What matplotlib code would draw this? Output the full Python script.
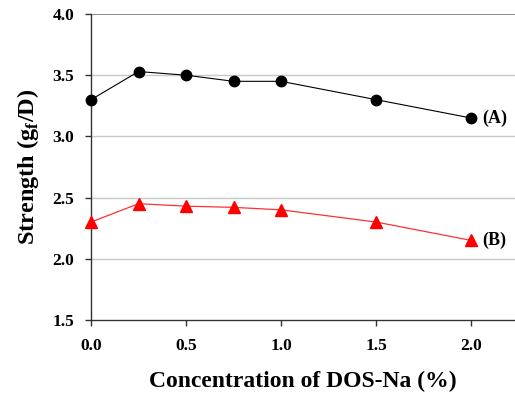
import matplotlib
matplotlib.use('Agg')
import matplotlib.pyplot as plt

# --- data ---
conc = [0.0, 0.25, 0.5, 0.75, 1.0, 1.5, 2.0]
strength_a = [3.30, 3.53, 3.50, 3.45, 3.45, 3.30, 3.15]
strength_b = [2.30, 2.45, 2.43, 2.42, 2.40, 2.30, 2.15]
x_ticks = [0.0, 0.5, 1.0, 1.5, 2.0]
y_ticks = [1.5, 2.0, 2.5, 3.0, 3.5, 4.0]

plt.rcParams['font.family'] = ['Liberation Serif', 'DejaVu Serif']
plt.rcParams['font.weight'] = 'bold'
plt.rcParams['mathtext.fontset'] = 'custom'
plt.rcParams['mathtext.bf'] = 'Liberation Serif:bold'
plt.rcParams['mathtext.rm'] = 'Liberation Serif:bold'

fig = plt.figure(figsize=(5.15, 3.96), dpi=100)
ax = fig.add_axes([0.1767, 0.192, 0.8233, 0.7726])

# horizontal grid
for y in y_ticks[1:-1]:
    ax.axhline(y, color='#c8c8c8', linewidth=1.0, zorder=0)
ax.axhline(4.0, color='#777777', linewidth=1.2, zorder=0)

ax.plot(conc, strength_a, color='black', linewidth=0.8, marker='o',
        markersize=7.5, zorder=3, clip_on=False)
ax.plot(conc, strength_b, color='#ff3030', linewidth=0.9, marker='^',
        markersize=8, markerfacecolor='red', markeredgecolor='red',
        zorder=3, clip_on=False)

ax.text(conc[-1] + 0.06, strength_a[-1], '(A)', fontsize=13, fontweight='bold',
        va='center', ha='left')
ax.text(conc[-1] + 0.06, strength_b[-1], '(B)', fontsize=13, fontweight='bold',
        va='center', ha='left')

ax.set_xlim(0, 2.23)
ax.set_ylim(1.5, 4.0)
ax.set_xticks(x_ticks)
ax.set_yticks(y_ticks)
ax.set_xticklabels([f'{v:.1f}' for v in x_ticks], fontsize=12.5, fontweight='bold')
ax.set_yticklabels([f'{v:.1f}' for v in y_ticks], fontsize=12.5, fontweight='bold')
ax.tick_params(axis='x', direction='out', length=4, width=1, pad=9,
               color='#333333')
ax.tick_params(axis='y', direction='out', length=4, width=1, pad=8,
               color='#333333')

for side in ['top', 'right']:
    ax.spines[side].set_visible(False)
for side in ['left', 'bottom']:
    ax.spines[side].set_color('#333333')
    ax.spines[side].set_linewidth(1.0)

ax.set_xlabel('Concentration of DOS-Na (%)', fontsize=17, fontweight='bold',
              labelpad=12)
ax.set_ylabel(r'Strength (g$_\mathbf{f}$/D)', fontsize=17.5, fontweight='bold',
              labelpad=8)

fig.savefig('out.png', dpi=100)
